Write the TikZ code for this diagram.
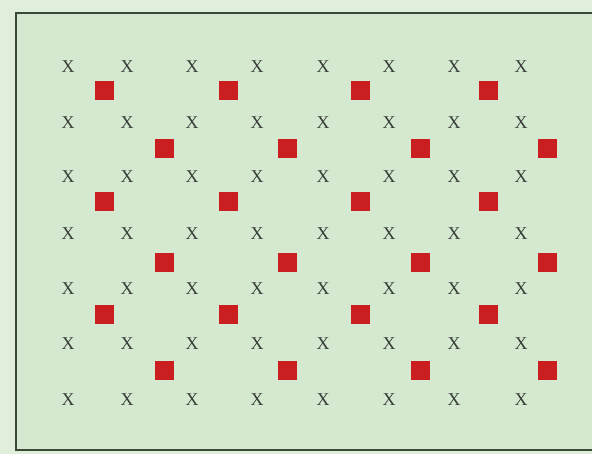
\documentclass[tikz,border=0pt]{standalone}
\usepackage{fontspec}
\setmainfont{Liberation Serif}
\definecolor{bgout}{RGB}{224,239,220}
\definecolor{bgin}{RGB}{213,233,208}
\definecolor{frame}{RGB}{58,72,56}
\definecolor{sqred}{RGB}{202,30,32}
\definecolor{xgray}{RGB}{55,62,55}
\begin{document}
\begin{tikzpicture}[x=1pt,y=-1pt,
  xmark/.style={text=xgray,font=\fontsize{18}{18}\selectfont,inner sep=0pt},
  redsq/.style={fill=sqred,draw=none,minimum size=19pt,inner sep=0pt}]
\useasboundingbox (0,0) rectangle (592,454);
\fill[bgout] (0,0) rectangle (592,454);
\fill[bgin] (16,13) rectangle (592,450);
\draw[frame,line width=2.4pt] (600,13) -- (16,13) -- (16,450) -- (600,450);
\foreach \r/\y in {1/67,2/123,3/177,4/234,5/289,6/344,7/400}{
  \foreach \c/\x in {1/68,2/127,3/192,4/257,5/323,6/389,7/454,8/521}{
    \node[xmark] (x-\r-\c) at (\x,\y) {X};
  }
}
\foreach \r/\y in {1/91,2/202,3/315}{
  \foreach \c/\x in {1/104,2/228,3/360,4/488}{
    \node[redsq] (a-\r-\c) at (\x,\y) {};
  }
}
\foreach \r/\y in {1/149,2/263,3/371}{
  \foreach \c/\x in {1/164,2/287,3/420,4/547}{
    \node[redsq] (b-\r-\c) at (\x,\y) {};
  }
}
\end{tikzpicture}
\end{document}
